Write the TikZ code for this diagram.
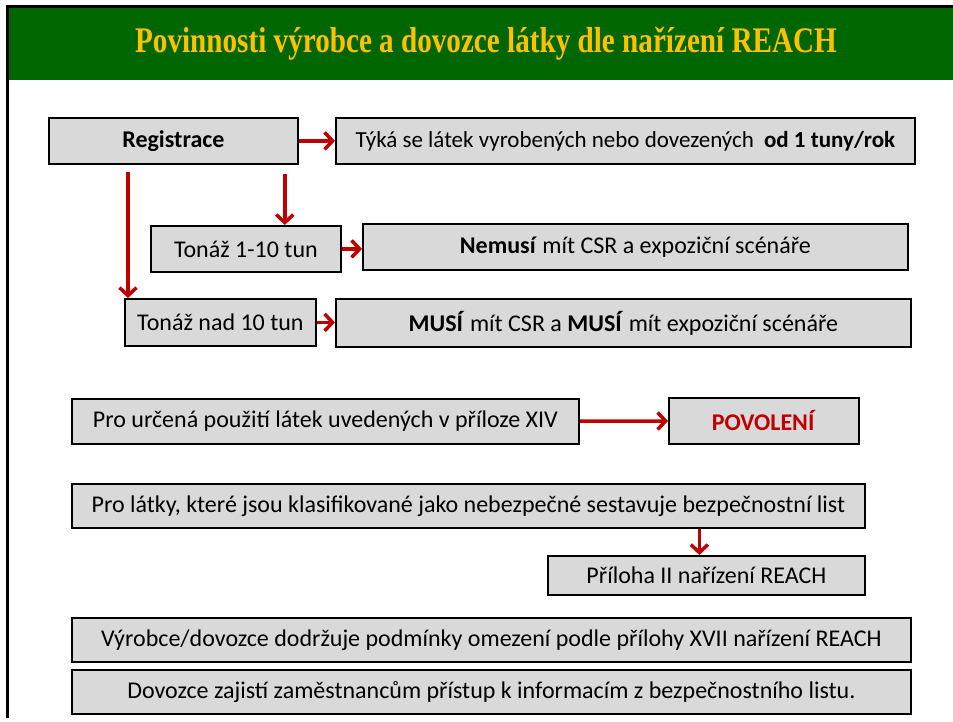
\documentclass[tikz,border=0pt]{standalone}
\usepackage{fontspec}
\setmainfont{Carlito}
\newfontfamily\titlefont[FakeStretch=0.81]{Liberation Serif}
\usetikzlibrary{arrows.meta}
\definecolor{slidegreen}{RGB}{0,102,0}
\definecolor{titlegold}{RGB}{255,192,0}
\definecolor{boxgray}{RGB}{217,217,217}
\definecolor{arrowred}{RGB}{192,0,0}

\begin{document}
\begin{tikzpicture}[x=1pt,y=-1pt,
  box/.style={draw=black,line width=1.8pt,fill=boxgray,anchor=north west,inner sep=0pt,
    font=\fontsize{24}{28}\selectfont},
  arr/.style={draw=arrowred,line width=3.5pt,-{Straight Barb[length=8pt,width=17pt]}}]
\useasboundingbox (0,0) rectangle (953,722);
\fill[white] (0,0) rectangle (953,722);
% slide frame and title bar
\fill[slidegreen] (8,8) rectangle (953,80);
\draw[line width=3pt] (7,718) -- (7,7) -- (953,7);
\node[font=\titlefont\bfseries\fontsize{36}{40}\selectfont,text=titlegold] (title) at (486,44)
  {Povinnosti výrobce a dovozce látky dle nařízení REACH};

% registrace
\node[box,minimum width=249pt,minimum height=46pt] (reg) at (48,117) {\textbf{Registrace}};
\node[box,minimum width=579pt,minimum height=46pt,font=\fontsize{23}{27}\selectfont] (tyka) at (335,117)
  {Týká se látek vyrobených nebo dovezených\hspace{5pt} \textbf{od 1 tuny/rok}};
\node[box,minimum width=190pt,minimum height=46pt] (ton1) at (150,225) {Tonáž 1-10 tun};
\node[box,minimum width=545pt,minimum height=46pt] (nemusi) at (362,223)
  {\textbf{Nemusí} mít CSR a expoziční scénáře};
\node[box,minimum width=191pt,minimum height=47pt] (ton10) at (124,298) {Tonáž nad 10 tun};
\node[box,minimum width=575pt,minimum height=48pt] (musi) at (335,298)
  {\textbf{MUSÍ} mít CSR a \textbf{MUSÍ} mít expoziční scénáře};

% povoleni
\node[box,minimum width=507pt,minimum height=45pt] (xiv) at (71,398)
  {Pro určená použití látek uvedených v příloze XIV};
\node[box,minimum width=190pt,minimum height=46pt,text=arrowred] (povol) at (668,397)
  {\textbf{POVOLENÍ}};

% bezpecnostni list
\node[box,minimum width=793pt,minimum height=44pt] (blist) at (71,483)
  {Pro látky, které jsou klasifikované jako nebezpečné sestavuje bezpečnostní list};
\node[box,minimum width=317pt,minimum height=39pt] (pril) at (547,555)
  {Příloha II nařízení REACH};

\node[box,minimum width=839pt,minimum height=44pt] (xvii) at (71,617)
  {Výrobce/dovozce dodržuje podmínky omezení podle přílohy XVII nařízení REACH};
\node[box,minimum width=839pt,minimum height=44pt] (info) at (71,669)
  {Dovozce zajistí zaměstnancům přístup k informacím z bezpečnostního listu.};

\draw[arr] (reg) -- (tyka);
\draw[arr] (ton1.east) -- (ton1.east -| nemusi.west);
\draw[arr] (ton10.east) -- (ton10.east -| musi.west);
\draw[arr] (xiv) -- (povol);
\draw[arr,shorten <=9pt] ([xshift=-14pt]reg.south east) -- ([xshift=-14pt]reg.south east |- ton1.north);
\draw[arr,shorten <=7pt] ([xshift=80pt]reg.south west) -- ([xshift=80pt]reg.south west |- ton10.north);
\draw[arr] ([xshift=-7pt]blist.south -| pril.north) -- ([xshift=-7pt]pril.north);
\end{tikzpicture}
\end{document}
